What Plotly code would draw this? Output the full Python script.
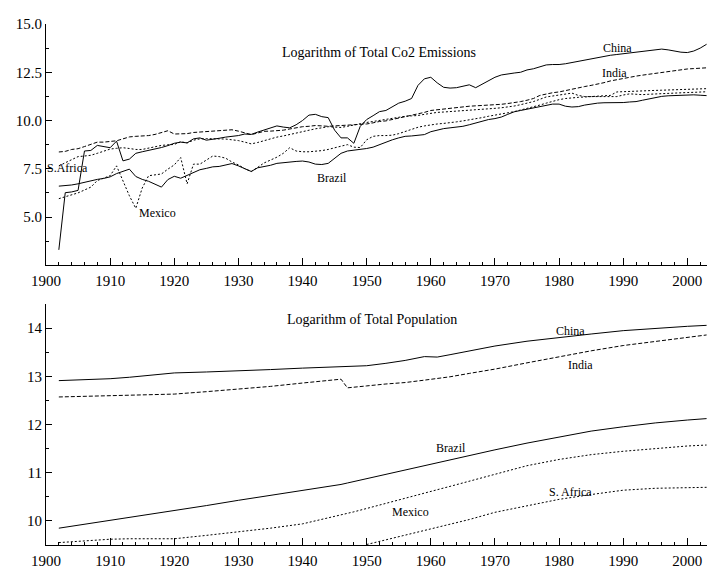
import plotly.graph_objects as go

# ---------------- Data: Logarithm of total CO2 emissions ----------------
co2_years = list(range(1902, 2004))

co2_china = [3.3, 6.26, 6.3, 6.38, 8.42, 8.45, 8.71, 8.65, 8.59, 8.93,
             7.91, 8.0, 8.3, 8.38, 8.45, 8.5, 8.6, 8.7, 8.82, 8.88,
             8.84, 9.05, 9.1, 8.98, 9.02, 9.08, 9.14, 9.18, 9.22, 9.3,
             9.28, 9.4, 9.5, 9.6, 9.72, 9.66, 9.62, 9.78, 10.0, 10.28,
             10.32, 10.2, 10.15, 9.5, 9.1, 9.1, 8.82, 9.7, 10.05, 10.25,
             10.46, 10.52, 10.7, 10.9, 11.0, 11.14, 11.82, 12.16, 12.24, 11.95,
             11.72, 11.68, 11.7, 11.77, 11.85, 11.7, 11.88, 12.05, 12.24, 12.36,
             12.42, 12.46, 12.5, 12.62, 12.68, 12.8, 12.88, 12.9, 12.9, 12.94,
             13.0, 13.08, 13.13, 13.2, 13.28, 13.32, 13.38, 13.42, 13.46, 13.52,
             13.56, 13.6, 13.64, 13.68, 13.7, 13.66, 13.6, 13.54, 13.52, 13.6,
             13.75, 13.95]

co2_india = [8.37, 8.4, 8.5, 8.54, 8.65, 8.75, 8.88, 8.88, 8.9, 8.95,
             9.05, 9.15, 9.18, 9.2, 9.22, 9.28, 9.38, 9.47, 9.3, 9.32,
             9.32, 9.38, 9.4, 9.45, 9.46, 9.48, 9.48, 9.52, 9.45, 9.35,
             9.27, 9.35, 9.44, 9.45, 9.47, 9.5, 9.56, 9.64, 9.68, 9.7,
             9.74, 9.72, 9.7, 9.72, 9.74, 9.74, 9.76, 9.78, 9.82, 9.88,
             9.95, 9.98, 10.05, 10.12, 10.2, 10.27, 10.34, 10.42, 10.52, 10.56,
             10.6, 10.63, 10.68, 10.72, 10.74, 10.76, 10.78, 10.79, 10.8, 10.84,
             10.88, 10.92, 10.98, 11.05, 11.14, 11.3, 11.38, 11.44, 11.48, 11.56,
             11.62, 11.7, 11.76, 11.82, 11.88, 11.96, 12.05, 12.12, 12.18, 12.25,
             12.3, 12.35, 12.4, 12.46, 12.5, 12.55, 12.6, 12.64, 12.67, 12.69,
             12.7, 12.73]

co2_safrica = [7.65, 7.8, 7.95, 8.13, 8.16, 8.2, 8.3, 8.4, 8.52, 8.56,
               8.59, 8.55, 8.5, 8.5, 8.58, 8.65, 8.71, 8.74, 8.76, 8.9,
               8.84, 8.98, 9.05, 9.06, 9.06, 9.06, 9.04, 9.0, 8.96, 8.88,
               8.79, 8.86, 8.96, 9.05, 9.14, 9.2, 9.28, 9.36, 9.45, 9.52,
               9.57, 9.62, 9.68, 9.66, 9.64, 9.7, 9.78, 9.86, 9.9, 9.95,
               10.0, 10.06, 10.12, 10.18, 10.22, 10.24, 10.26, 10.32, 10.38, 10.42,
               10.44, 10.46, 10.48, 10.52, 10.54, 10.56, 10.58, 10.6, 10.63, 10.66,
               10.7, 10.75, 10.82, 10.9, 10.98, 11.1, 11.22, 11.27, 11.31, 11.36,
               11.42, 11.3, 11.24, 11.24, 11.24, 11.22, 11.22, 11.24, 11.32, 11.38,
               11.36, 11.34, 11.36, 11.38, 11.38, 11.4, 11.42, 11.44, 11.45, 11.46,
               11.47, 11.49]

co2_mexico = [5.95, 6.05, 6.15, 6.25, 6.4, 6.55, 6.89, 7.0, 7.14, 7.65,
              6.89, 6.1, 5.45, 6.5, 7.14, 7.18, 7.23, 7.48, 7.7, 8.08,
              6.72, 7.74, 7.74, 7.95, 8.16, 8.13, 8.05, 7.85, 7.7, 7.5,
              7.36, 7.57, 7.8, 7.95, 8.1, 8.3, 8.59, 8.42, 8.38, 8.38,
              8.4, 8.44, 8.5, 8.6, 8.67, 8.75, 8.62, 8.6, 9.0, 9.18,
              9.22, 9.22, 9.24, 9.32, 9.44, 9.55, 9.65, 9.72, 9.78, 9.82,
              9.85, 9.88, 9.93, 9.98, 10.03, 10.08, 10.15, 10.22, 10.29, 10.34,
              10.4, 10.46, 10.54, 10.62, 10.7, 10.8, 10.9, 11.0, 11.08, 11.14,
              11.18, 11.2, 11.22, 11.24, 11.24, 11.26, 11.3, 11.48, 11.5, 11.52,
              11.53, 11.54, 11.56, 11.56, 11.57, 11.58, 11.6, 11.6, 11.62, 11.63,
              11.64, 11.65]

co2_brazil = [6.6, 6.62, 6.66, 6.72, 6.8, 6.89, 6.95, 7.0, 7.08, 7.25,
              7.38, 7.48, 7.1, 6.95, 6.85, 6.72, 6.55, 6.94, 7.11, 7.01,
              7.15, 7.3, 7.45, 7.52, 7.6, 7.62, 7.7, 7.77, 7.65, 7.5,
              7.36, 7.55, 7.6, 7.68, 7.78, 7.82, 7.85, 7.88, 7.9, 7.85,
              7.74, 7.72, 7.78, 8.05, 8.3, 8.42, 8.46, 8.5, 8.55, 8.62,
              8.75, 8.9, 9.0, 9.1, 9.18, 9.2, 9.23, 9.27, 9.42, 9.5,
              9.58, 9.62, 9.66, 9.7, 9.78, 9.88, 9.98, 10.05, 10.1, 10.18,
              10.32, 10.45, 10.52, 10.58, 10.65, 10.72, 10.8, 10.85, 10.85, 10.74,
              10.7, 10.72, 10.8, 10.86, 10.9, 10.92, 10.92, 10.94, 10.93, 10.96,
              10.98, 11.05, 11.12, 11.2, 11.25, 11.28, 11.3, 11.31, 11.32, 11.33,
              11.31, 11.29]

# ---------------- Data: Logarithm of total population ----------------
pop_years = [1902, 1905, 1910, 1913, 1920, 1925, 1930, 1935, 1940, 1945,
             1946, 1947, 1948, 1950, 1953, 1956, 1959, 1961, 1963, 1966,
             1970, 1975, 1980, 1985, 1990, 1995, 2000, 2003]
pop_china = [12.91, 12.92, 12.95, 12.98, 13.07, 13.09, 13.11, 13.14, 13.17, 13.19,
             13.195, 13.2, 13.2, 13.22, 13.27, 13.33, 13.41, 13.40, 13.45, 13.53,
             13.63, 13.73, 13.81, 13.88, 13.95, 14.0, 14.04, 14.06]
pop_india = [12.57, 12.58, 12.61, 12.62, 12.63, 12.68, 12.73, 12.79, 12.86, 12.93,
             12.94, 12.76, 12.77, 12.8, 12.84, 12.87, 12.92, 12.95, 12.99, 13.06,
             13.15, 13.28, 13.41, 13.53, 13.64, 13.73, 13.82, 13.86]
pop_brazil = [9.84, 9.9, 10.0, 10.06, 10.2, 10.31, 10.42, 10.52, 10.62, 10.73,
              10.75, 10.78, 10.81, 10.88, 10.96, 11.05, 11.14, 11.2, 11.26, 11.35,
              11.47, 11.61, 11.74, 11.86, 11.95, 12.03, 12.09, 12.12]
pop_mexico = [9.54, 9.57, 9.61, 9.62, 9.62, 9.69, 9.76, 9.84, 9.93, 10.08,
              10.11, 10.15, 10.18, 10.25, 10.36, 10.46, 10.57, 10.64, 10.71, 10.82,
              10.97, 11.14, 11.27, 11.37, 11.44, 11.5, 11.55, 11.57]
safr_pop_years = [1950, 1953, 1956, 1959, 1961, 1963, 1966, 1970, 1975, 1980,
                  1985, 1990, 1995, 2000, 2003]
pop_safrica = [9.5, 9.6, 9.7, 9.8, 9.86, 9.92, 10.02, 10.17, 10.3, 10.44,
               10.54, 10.63, 10.67, 10.69, 10.69]

# Tick labels
co2_ticks = [5.0, 7.5, 10.0, 12.5, 15.0]
co2_ticktext = ["5.0", "7.5", "10.0", "12.5", "15.0"]
pop_ticks = [10, 11, 12, 13, 14]
year_ticks = list(range(1900, 2001, 10))

FONT = "Liberation Serif"
BLACK = "#000000"

fig = go.Figure()

def add_line(x, y, dash, xa, ya):
    fig.add_trace(go.Scatter(x=x, y=y, mode="lines", xaxis=xa, yaxis=ya,
                             line=dict(color=BLACK, width=1, dash=dash),
                             showlegend=False, hoverinfo="skip"))

DASH = "4px,2px"
DOT = "2px,2px"

add_line(co2_years, co2_china, "solid", "x", "y")
add_line(co2_years, co2_india, DASH, "x", "y")
add_line(co2_years, co2_safrica, DOT, "x", "y")
add_line(co2_years, co2_mexico, DOT, "x", "y")
add_line(co2_years, co2_brazil, "solid", "x", "y")

add_line(pop_years, pop_china, "solid", "x2", "y2")
add_line(pop_years, pop_india, DASH, "x2", "y2")
add_line(pop_years, pop_brazil, "solid", "x2", "y2")
add_line(pop_years, pop_mexico, DOT, "x2", "y2")
add_line(safr_pop_years, pop_safrica, DOT, "x2", "y2")

TICKFONT = dict(family=FONT, size=15, color=BLACK)

xaxis_common = dict(range=[1900, 2004], tickvals=year_ticks, showline=True,
                    linecolor=BLACK, linewidth=1, ticks="inside", ticklen=7,
                    tickcolor=BLACK, tickwidth=1, showgrid=False, zeroline=False,
                    tickfont=TICKFONT, ticklabelstandoff=2,
                    minor=dict(dtick=2, tick0=1900, ticks="inside", ticklen=3,
                               tickcolor=BLACK, showgrid=False))

# The page body has an 8px default margin, so the plot is laid out 8px up/left.
fig.update_layout(
    width=715, height=571,
    margin=dict(l=34, r=10, t=8, b=34),
    paper_bgcolor="white", plot_bgcolor="white",
    font=dict(family=FONT, size=14, color=BLACK),
    xaxis=dict(domain=[0, 1], anchor="y", **xaxis_common),
    xaxis2=dict(domain=[0, 1], anchor="y2", **xaxis_common),
    yaxis=dict(domain=[0.5369, 1.0], anchor="x", range=[2.5, 15.0],
               tickvals=co2_ticks, ticktext=co2_ticktext, showline=True,
               linecolor=BLACK, linewidth=1, ticks="inside", ticklen=6,
               tickcolor=BLACK, showgrid=False, zeroline=False,
               tickfont=TICKFONT,
               minor=dict(dtick=1.25, tick0=2.5, ticks="inside", ticklen=3,
                          tickcolor=BLACK, showgrid=False)),
    yaxis2=dict(domain=[0.0, 0.4631], anchor="x2", range=[9.49, 14.51],
                tickvals=pop_ticks, showline=True,
                linecolor=BLACK, linewidth=1, ticks="inside", ticklen=6,
                tickcolor=BLACK, showgrid=False, zeroline=False,
                tickfont=TICKFONT,
                minor=dict(dtick=0.5, tick0=9.5, ticks="inside", ticklen=3,
                           tickcolor=BLACK, showgrid=False)),
)

def label(text, x, y, xref, yref, size=12):
    fig.add_annotation(text=text, x=x, y=y, xref=xref, yref=yref,
                       showarrow=False, xanchor="center", yanchor="middle",
                       font=dict(family=FONT, size=size, color=BLACK))

label("Logarithm of Total Co2 Emissions", 1951.9, 13.52, "x", "y", size=14)
label("China", 1989.1, 13.78, "x", "y")
label("India", 1988.7, 12.45, "x", "y")
label("Brazil", 1944.6, 7.04, "x", "y")
label("S.Africa", 1903.4, 7.55, "x", "y")
label("Mexico", 1917.4, 5.2, "x", "y")

label("Logarithm of Total Population", 1950.8, 14.19, "x2", "y2", size=14)
label("China", 1981.8, 13.94, "x2", "y2")
label("India", 1983.4, 13.23, "x2", "y2")
label("Brazil", 1963.2, 11.51, "x2", "y2")
label("Mexico", 1956.9, 10.18, "x2", "y2")
label("S. Africa", 1981.8, 10.59, "x2", "y2")

fig.write_html("out.html")
